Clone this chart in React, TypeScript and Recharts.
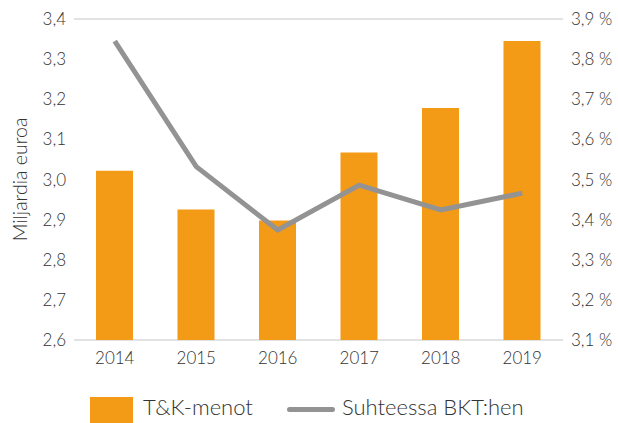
import React from 'react';
import { ComposedChart, Bar, Line, XAxis, YAxis, CartesianGrid, Legend } from 'recharts';

const years = ['2014', '2015', '2016', '2017', '2018', '2019'];
const rdSpending = [3.022, 2.925, 2.898, 3.067, 3.178, 3.345];
const shareOfGdp = [3.845, 3.532, 3.374, 3.486, 3.424, 3.466];
const leftTicks = [2.6, 2.7, 2.8, 2.9, 3.0, 3.1, 3.2, 3.3, 3.4];
const rightTicks = [3.1, 3.2, 3.3, 3.4, 3.5, 3.6, 3.7, 3.8, 3.9];

const data = years.map((year, i) => ({ year, menot: rdSpending[i], bkt: shareOfGdp[i] }));

const ORANGE = '#f39a17';
const GREY = '#939393';
const FONT = 'Lato, "Open Sans", sans-serif';

const fmt = (v: number) => v.toFixed(1).replace('.', ',');

function ChartLegend() {
  const text = { position: 'absolute' as const, top: 14, lineHeight: '26px', fontFamily: FONT, fontWeight: 300, fontSize: 22, color: '#333', whiteSpace: 'nowrap' as const };
  return (
    <div style={{ position: 'relative', width: 618, height: 43 }}>
      <span style={{ position: 'absolute', left: 90, top: 17, width: 43, height: 26, background: ORANGE }} />
      <span style={{ ...text, left: 143 }}>T&amp;K-menot</span>
      <span style={{ position: 'absolute', left: 287, top: 27, width: 48, height: 5, borderRadius: 3, background: GREY }} />
      <span style={{ ...text, left: 342 }}>Suhteessa BKT:hen</span>
    </div>
  );
}

export default function App() {
  const tick = { fill: '#333', fontSize: 17, fontFamily: FONT, fontWeight: 300 };
  return (
    <div style={{ position: 'fixed', left: 0, top: 0, width: 618, height: 423, background: '#fff' }}>
      <ComposedChart width={618} height={423} data={data} margin={{ top: 19, right: 0, left: 0, bottom: 0 }}>
        <CartesianGrid vertical={false} stroke="#d9d9d9" strokeWidth={1.5} />
        <XAxis
          dataKey="year"
          axisLine={false}
          tickLine={false}
          tick={tick}
          height={40}
          dy={4}
        />
        <YAxis
          yAxisId="left"
          domain={[2.6, 3.4]}
          ticks={leftTicks}
          tickFormatter={fmt}
          axisLine={false}
          tickLine={false}
          tick={tick}
          width={74}
          label={{ value: 'Miljardia euroa', angle: -90, position: 'insideLeft', offset: 20, style: { textAnchor: 'middle', fill: '#333', fontSize: 19.5, fontFamily: FONT, fontWeight: 300 } }}
        />
        <YAxis
          yAxisId="right"
          orientation="right"
          domain={[3.1, 3.9]}
          ticks={rightTicks}
          tickFormatter={(v: number) => `${fmt(v)} %`}
          axisLine={false}
          tickLine={false}
          tick={{ ...tick, textAnchor: 'start' }}
          width={55}
        />
        <Legend verticalAlign="bottom" content={() => <ChartLegend />} />
        <Bar yAxisId="left" dataKey="menot" fill={ORANGE} barSize={37} isAnimationActive={false} />
        <Line yAxisId="right" dataKey="bkt" stroke={GREY} strokeWidth={5} dot={false} isAnimationActive={false} />
      </ComposedChart>
    </div>
  );
}
